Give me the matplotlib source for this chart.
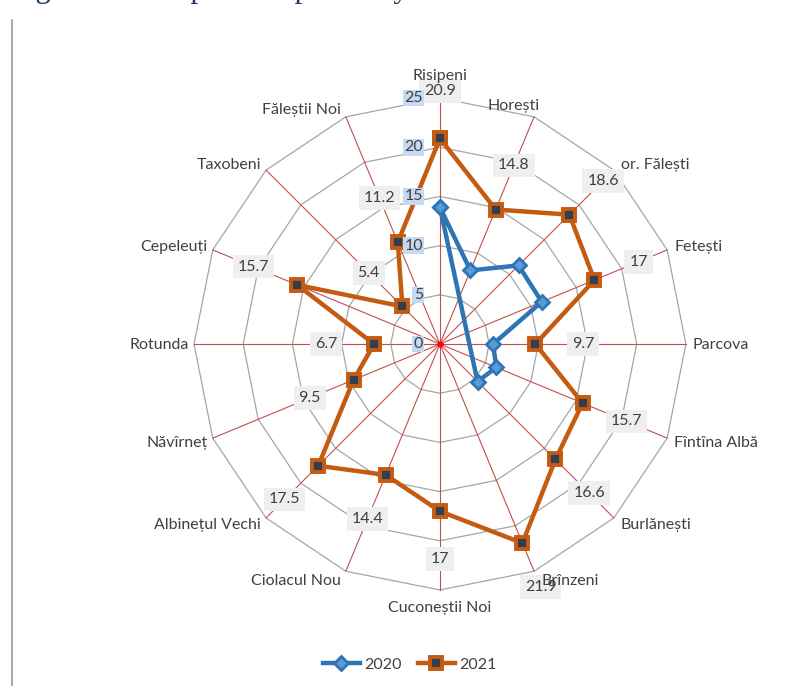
import numpy as np
import matplotlib
matplotlib.use("Agg")
import matplotlib.pyplot as plt
from matplotlib.lines import Line2D

plt.rcParams['font.family'] = ['Lato', 'DejaVu Sans']

# data
categories = ["Risipeni", "Horești", "or. Fălești", "Fetești", "Parcova",
              "Fîntîna Albă", "Burlănești", "Brînzeni", "Cuconeștii Noi",
              "Ciolacul Nou", "Albinețul Vechi", "Năvîrneț", "Rotunda",
              "Cepeleuți", "Taxobeni", "Făleștii Noi"]
values_2021 = [20.9, 14.8, 18.6, 17, 9.7, 15.7, 16.6, 21.9, 17, 14.4,
               17.5, 9.5, 6.7, 15.7, 5.4, 11.2]
# 2020 only has values for the first seven villages
values_2020 = [13.9, 8.1, 11.3, 11.2, 5.4, 6.2, 5.4]
r_ticks = [0, 5, 10, 15, 20, 25]

ORANGE = '#C55A11'
BLUE = '#2E75B6'

n = len(categories)
theta = np.arange(n) * 2 * np.pi / n

fig = plt.figure(figsize=(7.96, 6.86), dpi=100)
ax = fig.add_axes([0.2437, 0.14, 0.618, 0.717], projection='polar')
ax.set_theta_zero_location('N')
ax.set_theta_direction(-1)
ax.set_ylim(0, 25)
ax.set_xticks([])
ax.set_yticks([])
ax.grid(False)
ax.spines['polar'].set_visible(False)
ax.patch.set_alpha(0)

# polygon gridlines
th_closed = np.append(theta, theta[0])
for r in r_ticks[1:]:
    ax.plot(th_closed, [r] * (n + 1), color='#A6A6A6', lw=0.9, zorder=1,
            clip_on=False)
# spokes
for t in theta:
    ax.plot([t, t], [0, 25], color='#C0504D', lw=0.8, zorder=2, clip_on=False)
ax.plot([0], [0], 'o', color='#FF0000', ms=3.5, zorder=3)

# series
t20 = np.append(theta[:len(values_2020)], theta[0])
v20 = values_2020 + [values_2020[0]]
ax.plot(t20, v20, color=BLUE, lw=3.2, marker='D', ms=7, mfc='#5B9BD5',
        mec=BLUE, mew=2, zorder=6, clip_on=False, label='2020')
ax.plot(th_closed, values_2021 + [values_2021[0]], color=ORANGE, lw=3.2,
        marker='s', ms=8.5, mfc='#333F50', mec=ORANGE, mew=2.8, zorder=7,
        clip_on=False, label='2021')

# data labels of 2021
for t, v in zip(theta, values_2021):
    ax.text(t, v + 4.85, f"{v:g}", ha='center', va='center', fontsize=11.5,
            color='#404040', zorder=8,
            bbox=dict(boxstyle='square,pad=0.3', fc='#EFEFEF', ec='none'))

# radial value labels, drawn above the series
for r in r_ticks:
    ax.annotate(str(r), xy=(0, r), xytext=(-17, 0), textcoords='offset pixels',
                ha='right', va='center', fontsize=11.5, color='#404040',
                annotation_clip=False, zorder=10,
                bbox=dict(boxstyle='square,pad=0.08', fc='#C5D9F1', ec='none'))

# category labels
for t, name in zip(theta, categories):
    s, c = np.sin(t), np.cos(t)
    if abs(s) < 0.2:
        ha = 'center'
        va = 'bottom' if c > 0 else 'top'
        dx, dy = 0, 15 if c > 0 else -11
    else:
        ha = 'left' if s > 0 else 'right'
        va = 'center'
        dx, dy = (7 if s > 0 else -5), 9 * c - 1
    if name == "Horești":
        ha, va, dx, dy = 'center', 'bottom', -21, 4
    ax.annotate(name, xy=(t, 25), xytext=(dx, dy), textcoords='offset pixels',
                ha=ha, va=va, fontsize=11.5, color='#404040',
                annotation_clip=False, zorder=11)

fig.legend(loc='center', bbox_to_anchor=(410 / 796, 1 - 665 / 686), ncol=2,
           frameon=False, fontsize=11.5, handlelength=2.3, columnspacing=1.0,
           handletextpad=0.3, labelcolor='#404040')

# page remnants: cut-off caption and left border
fig.text(10 / 796, 1 + 3 / 686, "Figure 1. Group development by raions",
         va='baseline', ha='left', family='Liberation Serif', fontsize=22,
         color='#1F3864')
fig.add_artist(Line2D([11.5 / 796] * 2, [0, 1 - 20 / 686], color='#999999',
                      lw=1.2, transform=fig.transFigure))

fig.savefig('out.png', dpi=100)
